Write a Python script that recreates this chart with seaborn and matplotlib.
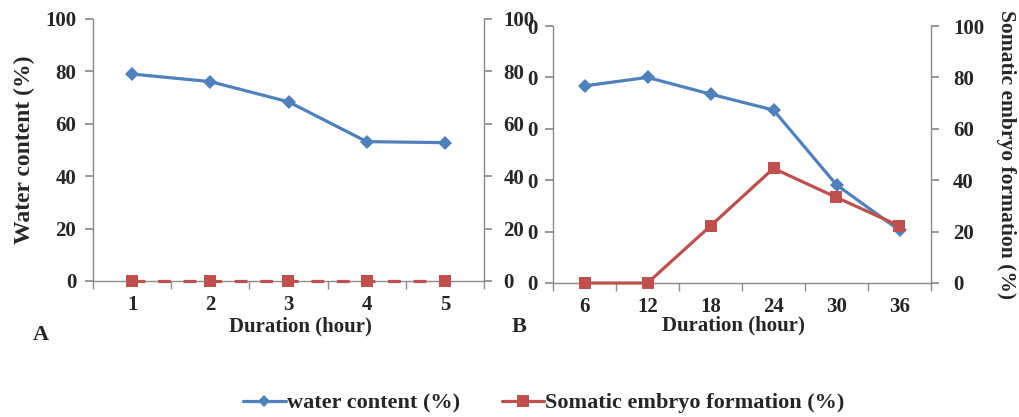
import matplotlib
matplotlib.use("Agg")
import matplotlib.pyplot as plt
from matplotlib.lines import Line2D
import seaborn as sns
import pandas as pd

# ---- data ----
hours_a = ["1", "2", "3", "4", "5"]
water_a = [79.0, 76.1, 68.4, 53.2, 52.8]
embryo_a = [0, 0, 0, 0, 0]

hours_b = ["6", "12", "18", "24", "30", "36"]
water_b = [76.7, 80.0, 73.5, 67.3, 38.2, 20.5]
embryo_b = [0, 0, 22.2, 44.6, 33.3, 22.2]

y_ticks = [0, 20, 40, 60, 80, 100]
BLUE = "#4F81BD"
RED = "#C0504D"
GRAY = "#8C8C8C"

sns.set_theme(style="white")
plt.rcParams["font.family"] = ["Liberation Serif", "DejaVu Serif"]
plt.rcParams["font.weight"] = "bold"
FS = 15

W, H = 1019, 417
fig = plt.figure(figsize=(W / 100, H / 100), dpi=100)


def px_axes(left, top, right, bottom):
    return fig.add_axes([left / W, 1 - bottom / H, (right - left) / W, (bottom - top) / H])


def style_axes(ax, ax2, cats, left_labels, right_labels, lpad, rpad):
    n = len(cats)
    for a in (ax, ax2):
        for s in a.spines.values():
            s.set_visible(False)
        a.set_ylim(0, 100)
        a.set_xlim(-0.5, n - 0.5)
        a.grid(False)
        a.set_xlabel("")
        a.set_ylabel("")
    ax.spines["left"].set_visible(True)
    ax.spines["bottom"].set_visible(True)
    ax2.spines["right"].set_visible(True)
    for s in (ax.spines["left"], ax.spines["bottom"], ax2.spines["right"]):
        s.set_color(GRAY)
        s.set_linewidth(1.0)
    ax.set_xticks(range(n))
    ax.set_xticklabels(cats, fontsize=FS, fontweight="bold")
    ax.tick_params(axis="x", which="major", length=0, pad=10)
    ax.set_xticks([i - 0.5 for i in range(n + 1)], minor=True)
    ax.tick_params(axis="x", which="minor", length=6, color=GRAY, direction="out", bottom=True)
    ax.set_yticks(y_ticks)
    ax.set_yticklabels(left_labels, fontsize=FS, fontweight="bold")
    ax.tick_params(axis="y", length=6, color=GRAY, direction="out", left=True, pad=lpad)
    ax2.set_yticks(y_ticks)
    ax2.set_yticklabels(right_labels, fontsize=FS, fontweight="bold")
    ax2.tick_params(axis="y", length=6, color=GRAY, direction="out", right=True, pad=rpad)


# ---- panel A ----
axA = px_axes(93, 19, 484, 281)
axA2 = axA.twinx()
dfA = pd.DataFrame({"hour": hours_a, "water": water_a, "embryo": embryo_a})
sns.lineplot(data=dfA, x="hour", y="water", ax=axA, color=BLUE, lw=2.3,
             marker="D", markersize=7.5, markeredgewidth=0, sort=False)
sns.lineplot(data=dfA, x="hour", y="embryo", ax=axA2, color=RED, lw=2.3,
             linestyle=(0, (4, 4)), marker="s", markersize=9, markeredgewidth=0,
             sort=False, clip_on=False)
style_axes(axA, axA2, hours_a, [str(v) for v in y_ticks], [str(v) for v in y_ticks], 6, 8)
axA.set_ylabel("Water content (%)", fontsize=17, fontweight="bold", labelpad=7)
fig.text(300.5 / W, 1 - 326.7 / H, "Duration (hour)", fontsize=FS, fontweight="bold",
         ha="center", va="center")

# ---- panel B ----
axB = px_axes(553, 26, 931, 283)
axB2 = axB.twinx()
dfB = pd.DataFrame({"hour": hours_b, "water": water_b, "embryo": embryo_b})
sns.lineplot(data=dfB, x="hour", y="water", ax=axB, color=BLUE, lw=2.3,
             marker="D", markersize=7.5, markeredgewidth=0, sort=False)
sns.lineplot(data=dfB, x="hour", y="embryo", ax=axB2, color=RED, lw=2.3,
             marker="s", markersize=9, markeredgewidth=0, sort=False, clip_on=False)
style_axes(axB, axB2, hours_b, ["0"] * len(y_ticks), [str(v) for v in y_ticks], 5, 10)
axB2.set_ylabel("Somatic embryo formation (%)", fontsize=15.5, fontweight="bold",
                rotation=-90, labelpad=23)
fig.text(733 / W, 1 - 325 / H, "Duration (hour)", fontsize=FS, fontweight="bold",
         ha="center", va="center")

fig.text(40.5 / W, 1 - 335 / H, "A", fontsize=16, fontweight="bold", ha="center", va="center")
fig.text(519 / W, 1 - 327 / H, "B", fontsize=16, fontweight="bold", ha="center", va="center")

handles = [
    Line2D([], [], color=BLUE, lw=2.3, marker="D", markersize=6, markeredgewidth=0),
    Line2D([], [], color=RED, lw=2.3, marker="s", markersize=8, markeredgewidth=0),
]
fig.legend(handles, ["water content (%)", "Somatic embryo formation (%)"],
           loc="center", bbox_to_anchor=(544 / W, 1 - 403 / H), ncol=2, frameon=False,
           prop={"size": 16, "weight": "bold"}, handlelength=1.9, handletextpad=0.05,
           columnspacing=1.9, borderaxespad=0, borderpad=0)

fig.savefig("out.png", dpi=100)
